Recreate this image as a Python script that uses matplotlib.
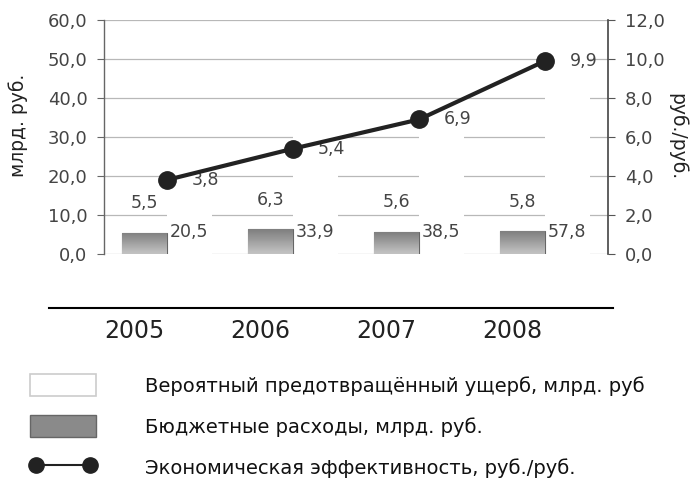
import matplotlib
matplotlib.use("Agg")
import matplotlib.pyplot as plt
import numpy as np
from matplotlib.patches import Patch
from matplotlib.lines import Line2D

years = ["2005", "2006", "2007", "2008"]
damage = [20.5, 33.9, 38.5, 57.8]        # Вероятный предотвращённый ущерб
budget = [5.5, 6.3, 5.6, 5.8]            # Бюджетные расходы
efficiency = [3.8, 5.4, 6.9, 9.9]        # Экономическая эффективность
left_ticks = [0, 10, 20, 30, 40, 50, 60]
right_ticks = [0, 2, 4, 6, 8, 10, 12]

def fmt(v):
    return f"{v:.1f}".replace(".", ",")

plt.rcParams['font.family'] = ['DejaVu Sans']
fig = plt.figure(figsize=(6.91, 4.78), dpi=100)
ax = fig.add_axes([104/691, 1-254/478, (608-104)/691, (254-20)/478])
ax2 = ax.twinx()

x = np.arange(len(years))
w = 0.355
tc = '#444444'

ax.set_ylim(0, 60)
ax.set_xlim(-0.5, 3.5)
ax.set_yticks(left_ticks)
ax.set_yticklabels([fmt(v) for v in left_ticks], fontsize=13, color=tc)
ax.yaxis.grid(True, color='#b8b8b8', lw=0.9, zorder=0)
ax.set_axisbelow(True)
ax.set_xticks([])
for s in ['top', 'bottom', 'right']:
    ax.spines[s].set_visible(False)
ax.spines['left'].set_color('#666666')
ax.spines['left'].set_linewidth(1.0)
ax.tick_params(axis='y', length=5, color='#666666', pad=7)
ax.set_ylabel("млрд. руб.", fontsize=13.5, color='#222222')
ax.yaxis.set_label_coords(-0.15, 0.55)

ax.bar(x + w/2, damage, width=w, color='white', edgecolor='none', zorder=2)
bars = ax.bar(x - w/2, budget, width=w, color='#8a8a8a', edgecolor='#666666', lw=0.8, zorder=3)
grad = np.linspace(0, 1, 64).reshape(-1, 1)
for b in bars:
    bx, by = b.get_x(), b.get_y()
    bw, bh = b.get_width(), b.get_height()
    im = ax.imshow(grad, cmap='Greys_r', vmin=-1.8, vmax=2.5, aspect='auto',
                   extent=[bx, bx + bw, by, by + bh], origin='upper', zorder=3.5)
    im.set_clip_path(b)
ax.set_xlim(-0.5, 3.5)
ax.set_ylim(0, 60)

for xi, b, d in zip(x, budget, damage):
    ax.annotate(fmt(b), (xi - w/2, b), xytext=(0, 15), textcoords='offset points',
                ha='center', va='bottom', fontsize=12.5, color=tc, zorder=5)
    ax.text(xi + w/2, 5.6, fmt(d), ha='center', va='center', fontsize=12.5, color=tc, zorder=5)

ax2.set_ylim(0, 12)
ax2.set_yticks(right_ticks)
ax2.set_yticklabels([fmt(v) for v in right_ticks], fontsize=13, color=tc)
for s in ['top', 'bottom', 'left']:
    ax2.spines[s].set_visible(False)
ax2.spines['right'].set_color('#444444')
ax2.spines['right'].set_linewidth(1.2)
ax2.tick_params(axis='y', length=5, color='#555555', pad=7)
ax2.set_ylabel("руб./руб.", fontsize=13.5, color='#222222', rotation=-90, labelpad=16)
ax2.plot(x, efficiency, color='#222222', lw=3, marker='o', ms=12.5, zorder=6)
for xi, e in zip(x, efficiency):
    ax2.annotate(fmt(e), (xi, e), xytext=(18, 0), textcoords='offset points',
                 ha='left', va='center', fontsize=12.5, color=tc)

# year labels
for xi, y in zip(x, years):
    ax.text(xi - 0.26, -0.33, y, transform=ax.get_xaxis_transform(),
            ha='center', va='center', fontsize=17, color='#222222')

fig.add_artist(Line2D([49/691, 613/691], [1-308/478, 1-308/478], color='black', lw=1.5))

handles = [Patch(facecolor='white', edgecolor='#cccccc', lw=1.2),
           Patch(facecolor='#8a8a8a', edgecolor='#666666', lw=1),
           Line2D([0], [0], color='#222222', lw=1.5, marker='o', ms=11)]
labels = ["Вероятный предотвращённый ущерб, млрд. руб",
          "Бюджетные расходы, млрд. руб.",
          "Экономическая эффективность, руб./руб."]
fig.legend(handles, labels, loc='upper left', bbox_to_anchor=(30/691, 1-374/478),
           frameon=False, fontsize=14, handlelength=3.4, handleheight=1.4,
           handletextpad=2.5, labelspacing=0.95, numpoints=2, borderaxespad=0,
           borderpad=0, labelcolor='#111111')

fig.savefig("out.png", dpi=100)
